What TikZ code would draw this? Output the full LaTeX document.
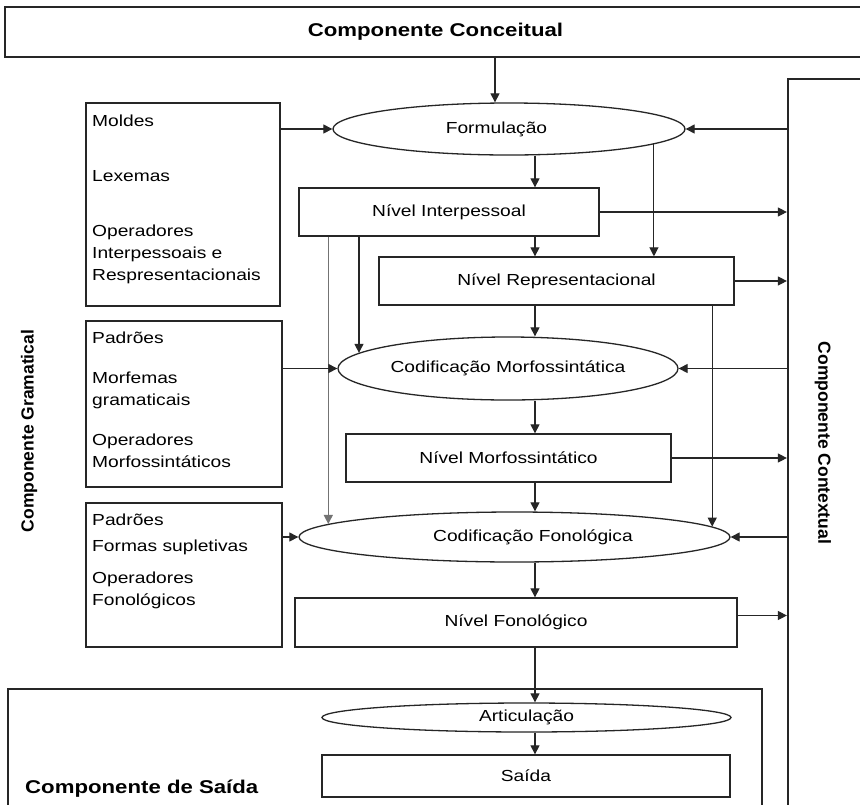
\documentclass[tikz,border=0pt]{standalone}
\usepackage{fontspec}
\setmainfont{Liberation Sans}[FakeStretch=1.2]
\newfontfamily\vfont{Liberation Sans}
\usetikzlibrary{arrows.meta,shapes.geometric}
\begin{document}
\begin{tikzpicture}[x=1pt,y=-1pt,
 box/.style={draw=black!85,line width=1.3pt,inner sep=0pt},
 bigbox/.style={draw=black!85,line width=2.2pt,inner sep=0pt},
 oval/.style={ellipse,draw=black!85,line width=1.3pt,inner sep=0pt},
 lbl/.style={font=\fontsize{16}{19}\selectfont,inner sep=0pt},
 item/.style={font=\fontsize{16}{19}\selectfont,inner sep=0pt,anchor=base west},
 title/.style={font=\fontsize{18.5}{22}\selectfont\bfseries,inner sep=0pt},
 vtitle/.style={font=\vfont\fontsize{17.5}{21}\selectfont\bfseries,inner sep=0pt},
 arr/.style={draw=black!85,line width=1.1pt,-{Triangle[length=9pt,width=9pt]}},
]
\useasboundingbox[fill=white] (0,0) rectangle (860,804);

% big frames
\node[bigbox,title,minimum width=861pt,minimum height=50pt] (concept) at (435.5,32) {Componente Conceitual};
\node[bigbox,minimum width=80pt,minimum height=735pt] (ctx) at (828,446.5) {};
\node[vtitle,rotate=-90] (ctxtxt) at (823,443) {Componente Contextual};
\node[vtitle,rotate=90] (gramtxt) at (29,431) {Componente Gramatical};
\node[bigbox,minimum width=754pt,minimum height=130pt] (out) at (385,754) {};
\node[title,anchor=base west] (outtxt) at (25,793) {Componente de Saída};

% left resource boxes
\node[box,minimum width=194pt,minimum height=203pt] (moldes) at (183,204.5) {};
\node[item] (t1) at (92,126) {Moldes};
\node[item] (t2) at (92,181) {Lexemas};
\node[item] (t3) at (92,236) {Operadores};
\node[item] (t4) at (92,258) {Interpessoais e};
\node[item] (t5) at (92,280) {Respresentacionais};

\node[box,minimum width=196pt,minimum height=166pt] (pad1) at (184,404) {};
\node[item] (u1) at (92,343) {Padrões};
\node[item] (u2) at (92,383) {Morfemas};
\node[item] (u3) at (92,405) {gramaticais};
\node[item] (u4) at (92,445) {Operadores};
\node[item] (u5) at (92,467) {Morfossintáticos};

\node[box,minimum width=196pt,minimum height=144pt] (pad2) at (184,575) {};
\node[item] (v1) at (92,525) {Padrões};
\node[item] (v2) at (92,551) {Formas supletivas};
\node[item] (v3) at (92,583) {Operadores};
\node[item] (v4) at (92,605) {Fonológicos};

% main chain
\node[oval,minimum width=352pt,minimum height=52pt] (form) at (509,129) {};
\node[lbl] (formtxt) at (496.5,129) {Formulação};
\node[box,lbl,minimum width=300pt,minimum height=48pt] (inter) at (449,212) {Nível Interpessoal};
\node[box,lbl,minimum width=355pt,minimum height=48pt] (repr) at (556.5,281) {Nível Representacional};
\node[oval,lbl,minimum width=340pt,minimum height=63pt] (cm) at (508,368.5) {Codificação Morfossintática};
\node[box,lbl,minimum width=325pt,minimum height=48pt] (nm) at (508.5,458) {Nível Morfossintático};
\node[oval,minimum width=431pt,minimum height=50pt] (cf) at (514.5,537) {};
\node[lbl] (cftxt) at (533,537) {Codificação Fonológica};
\node[box,lbl,minimum width=442pt,minimum height=49pt] (nf) at (516,622.5) {Nível Fonológico};
\node[oval,lbl,minimum width=409pt,minimum height=29pt] (art) at (526.5,717.5) {Articulação};
\node[box,lbl,minimum width=408pt,minimum height=42pt] (saida) at (526,776) {Saída};

\coordinate (c495) at (495,0);
\coordinate (c535) at (535,0);

% connectors
\draw[arr] (concept.south -| c495) -- (form.north -| c495);
\draw[arr] (moldes.east |- form.west) -- (form.west);
\draw[arr] (ctx.west |- form.east) -- (form.east);
\draw[arr] (form.south -| c535) -- (inter.north -| c535);
\draw[arr] (form.-6.19) -- (form.-6.19 |- repr.north);
\draw[arr] (inter.east) -- (inter.east -| ctx.west);
\draw[arr] (inter.south -| c535) -- (repr.north -| c535);
\draw[arr] (repr.east) -- (repr.east -| ctx.west);
\draw[arr] (cm.174.36 |- inter.south) -- (cm.174.36);
\draw[arr,draw=black!55] (cf.176.66 |- inter.south) -- (cf.176.66);
\draw[arr] (repr.south -| c535) -- (cm.north -| c535);
\draw[arr] (cf.3.07 |- repr.south) -- (cf.3.07);
\draw[arr] (pad1.east |- cm.west) -- (cm.west);
\draw[arr] (ctx.west |- cm.east) -- (cm.east);
\draw[arr] (cm.south -| c535) -- (nm.north -| c535);
\draw[arr] (nm.east) -- (nm.east -| ctx.west);
\draw[arr] (nm.south -| c535) -- (cf.north -| c535);
\draw[arr] (pad2.east |- cf.west) -- (cf.west);
\draw[arr] (ctx.west |- cf.east) -- (cf.east);
\draw[arr] (cf.south -| c535) -- (nf.north -| c535);
\draw[arr] ([yshift=7pt]nf.east) -- ([yshift=7pt]nf.east -| ctx.west);
\draw[arr] (nf.south -| c535) -- (art.north -| c535);
\draw[arr] (art.south -| c535) -- (saida.north -| c535);
\end{tikzpicture}
\end{document}
